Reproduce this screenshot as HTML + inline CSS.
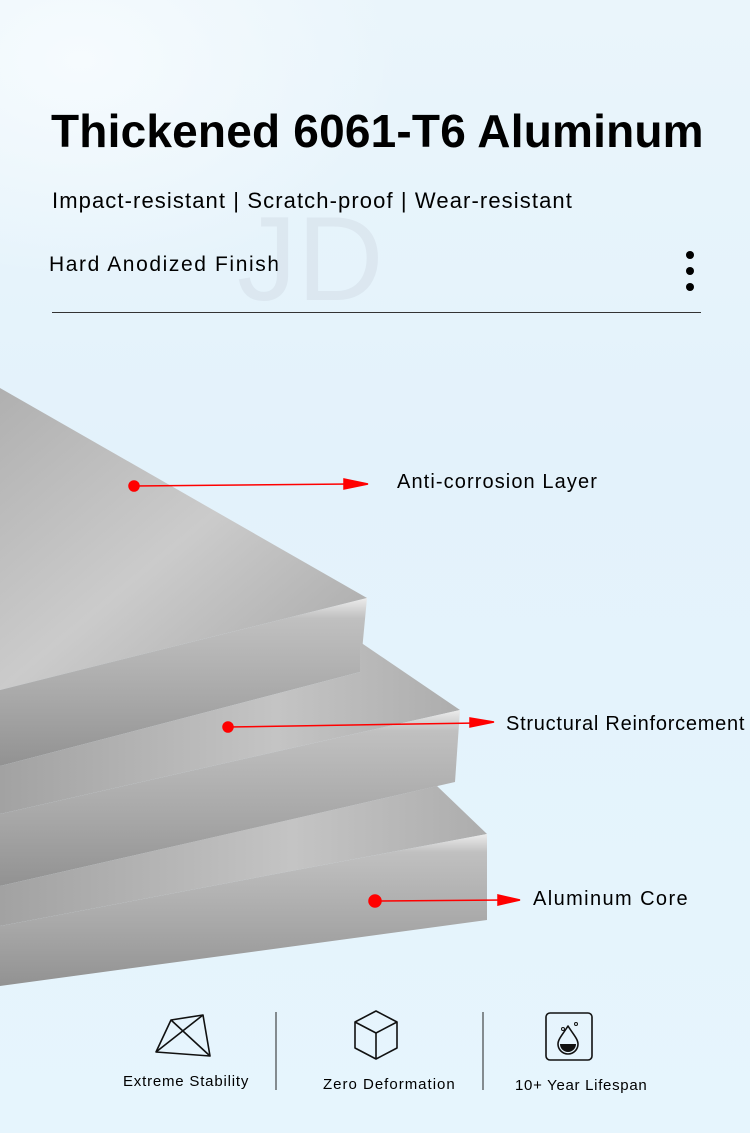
<!DOCTYPE html>
<html><head><meta charset="utf-8"><style>
body{margin:0;width:750px;height:1133px;overflow:hidden;font-family:"Liberation Sans","DejaVu Sans",sans-serif;}
.bg{position:absolute;left:0;top:0;width:750px;height:1133px;background:radial-gradient(ellipse 320px 220px at 80px 60px,#f6fbfe 0%,rgba(246,251,254,0) 100%),linear-gradient(180deg,#eaf5fb 0%,#e3f2fb 40%,#e6f5fd 100%);}
.t{position:absolute;color:#000;white-space:nowrap;}
</style></head><body>
<div class="bg"></div>
<div class="t" style="left:51px;top:104px;font-size:46px;font-weight:bold;letter-spacing:0.2px">Thickened 6061-T6 Aluminum</div>
<div class="t" style="left:52px;top:188px;font-size:22px;letter-spacing:1.1px">Impact-resistant | Scratch-proof | Wear-resistant</div>
<div class="t" style="left:49px;top:253px;font-size:21px;letter-spacing:1.6px">Hard Anodized Finish</div>
<div class="t" style="left:237px;top:190px;font-size:120px;color:rgba(200,210,220,0.35)">JD</div>
<div style="position:absolute;left:686px;top:251px;width:8px;height:8px;border-radius:50%;background:#000"></div>
<div style="position:absolute;left:686px;top:267px;width:8px;height:8px;border-radius:50%;background:#000"></div>
<div style="position:absolute;left:686px;top:283px;width:8px;height:8px;border-radius:50%;background:#000"></div>
<div style="position:absolute;left:52px;top:312px;width:649px;height:1px;background:#333"></div>
<svg width="750" height="1133" style="position:absolute;left:0;top:0">
<defs>
<linearGradient id="top1" x1="0" y1="0" x2="1" y2="1"><stop offset="0" stop-color="#b0b0b0"/><stop offset="0.5" stop-color="#cbcbcb"/><stop offset="1" stop-color="#a6a6a6"/></linearGradient>
<linearGradient id="fr" x1="0" y1="0" x2="0" y2="1"><stop offset="0" stop-color="#ececec"/><stop offset="0.12" stop-color="#c0c0c0"/><stop offset="0.6" stop-color="#a8a8a8"/><stop offset="1" stop-color="#929292"/></linearGradient>
<linearGradient id="top2" x1="0" y1="0" x2="1" y2="0"><stop offset="0" stop-color="#a2a2a2"/><stop offset="0.6" stop-color="#c4c4c4"/><stop offset="1" stop-color="#adadad"/></linearGradient>
</defs>
<polygon points="0,388 367,598 0,690" fill="url(#top1)"/>
<polygon points="367,598 360,672 0,766 0,690" fill="url(#fr)"/>
<polygon points="0,766 360,672 360,642 460,710 0,814" fill="url(#top2)"/>
<polygon points="460,710 455,782 0,886 0,814" fill="url(#fr)"/>
<polygon points="0,886 437,786 487,834 0,926" fill="url(#top2)"/>
<polygon points="487,834 487,920 0,986 0,926" fill="url(#fr)"/>
<g fill="#f00" stroke="#f00" stroke-width="1.5">
<line x1="134" y1="486" x2="350" y2="484"/><circle cx="134" cy="486" r="5"/><polygon points="344,479 368,484 344,489"/>
<line x1="228" y1="727" x2="478" y2="723"/><circle cx="228" cy="727" r="5"/><polygon points="470,718 494,722 470,727"/>
<line x1="375" y1="901" x2="505" y2="900"/><circle cx="375" cy="901" r="6"/><polygon points="498,895 520,900 498,905"/>
</g>
<g fill="none" stroke="#111" stroke-width="1.6" stroke-linejoin="round">
<polygon points="156,1052 171,1020 203,1015 210,1056"/><line x1="171" y1="1020" x2="210" y2="1056"/><line x1="156" y1="1052" x2="203" y2="1015"/>
<polygon points="376,1011 397,1022 397,1048 376,1059 355,1048 355,1022"/><polyline points="355,1022 376,1033 397,1022"/><line x1="376" y1="1033" x2="376" y2="1059"/>
<rect x="546" y="1013" width="46" height="47" rx="4"/>
<path d="M568,1026 C563,1034 558,1039 558,1044 A10,10 0 0 0 578,1044 C578,1039 573,1034 568,1026 Z"/>
</g>
<path d="M560,1044 A8,8 0 0 0 576,1044 Z" fill="#111"/>
<circle cx="563" cy="1029" r="1.5" fill="none" stroke="#111"/><circle cx="576" cy="1024" r="1.5" fill="none" stroke="#111"/>
<line x1="276" y1="1012" x2="276" y2="1090" stroke="#222"/>
<line x1="483" y1="1012" x2="483" y2="1090" stroke="#222"/>
</svg>
<div class="t" style="left:397px;top:471px;font-size:20px;letter-spacing:1.1px">Anti-corrosion Layer</div>
<div class="t" style="left:506px;top:713px;font-size:20px;letter-spacing:0.75px">Structural Reinforcement</div>
<div class="t" style="left:533px;top:888px;font-size:20px;letter-spacing:1.4px">Aluminum Core</div>
<div class="t" style="left:123px;top:1073px;font-size:15px;letter-spacing:0.8px">Extreme Stability</div>
<div class="t" style="left:323px;top:1076px;font-size:15px;letter-spacing:1px">Zero Deformation</div>
<div class="t" style="left:515px;top:1077px;font-size:15px;letter-spacing:0.7px">10+ Year Lifespan</div>
</body></html>
